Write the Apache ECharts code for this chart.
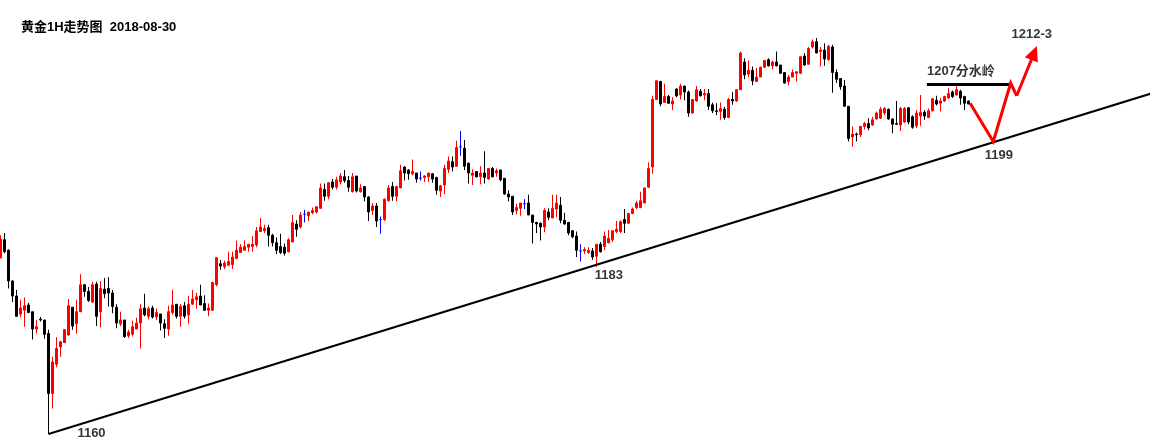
<!DOCTYPE html>
<html><head><meta charset="utf-8">
<script src="https://cdn.jsdelivr.net/npm/echarts@6/dist/echarts.min.js"></script>
<style>html,body{margin:0;padding:0;background:#fff}#c{width:1151px;height:442px}</style>
</head><body><div id="c"></div>
<script>
// Gold 1H candles: [open, close, low, high]
const candles = [
[1183.5,1186.0,1183.4,1186.5],[1185.9,1184.3,1184.1,1186.8],[1184.5,1180.4,1179.4,1184.6],[1180.4,1178.4,1177.6,1180.5],
[1178.4,1175.7,1175.6,1179.2],[1176.0,1176.8,1175.6,1177.9],[1176.5,1177.1,1174.3,1178.2],[1177.2,1176.2,1176.1,1177.5],
[1176.3,1174.0,1172.6,1176.3],[1174.0,1174.3,1173.4,1175.2],[1175.3,1175.2,1175.0,1175.6],[1175.2,1173.3,1172.7,1175.2],
[1173.4,1165.4,1163.2,1173.9],[1165.4,1169.6,1163.4,1170.3],[1169.3,1171.4,1168.9,1172.9],[1171.6,1172.3,1170.3,1172.4],
[1172.2,1173.9,1172.1,1174.0],[1173.2,1177.1,1173.1,1178.0],[1176.9,1174.4,1173.9,1176.9],[1174.7,1176.3,1173.4,1177.9],
[1176.3,1179.9,1176.3,1181.3],[1179.9,1179.0,1178.3,1180.0],[1179.0,1177.8,1177.6,1179.6],[1177.6,1179.9,1177.5,1180.3],
[1180.0,1175.7,1174.4,1180.3],[1176.3,1179.4,1174.2,1180.4],[1179.3,1178.7,1178.1,1180.8],[1179.4,1178.8,1177.0,1180.9],
[1178.8,1177.0,1176.1,1179.2],[1176.9,1174.8,1174.1,1177.3],[1174.7,1175.2,1174.4,1176.3],[1175.2,1173.0,1172.8,1175.2],
[1173.1,1173.6,1172.8,1173.9],[1173.3,1174.3,1173.0,1175.1],[1174.0,1174.8,1174.0,1175.5],[1174.8,1176.7,1171.4,1177.3],
[1176.8,1175.9,1175.7,1178.7],[1175.7,1176.7,1175.3,1177.0],[1176.8,1175.6,1175.4,1177.1],[1175.6,1176.2,1175.2,1176.7],
[1176.0,1174.8,1173.8,1176.0],[1174.7,1174.1,1172.8,1175.3],[1174.0,1176.3,1173.1,1177.1],[1176.2,1177.2,1175.9,1179.2],
[1177.3,1175.7,1175.4,1177.3],[1175.7,1177.0,1174.3,1177.3],[1177.1,1175.7,1175.4,1177.6],[1175.9,1177.3,1174.7,1178.4],
[1177.3,1178.0,1177.2,1179.2],[1177.9,1178.3,1176.7,1178.8],[1178.4,1177.2,1177.2,1179.9],[1177.4,1176.5,1176.4,1178.5],
[1176.5,1176.8,1175.7,1177.4],[1176.5,1180.2,1176.4,1180.3],[1179.9,1183.5,1179.7,1183.6],[1182.7,1182.4,1181.9,1183.2],
[1182.3,1182.8,1182.0,1183.1],[1182.5,1183.0,1182.4,1184.3],[1182.6,1183.6,1182.0,1184.3],[1183.4,1184.5,1183.3,1185.8],
[1184.2,1184.9,1184.2,1185.3],[1184.5,1185.0,1184.5,1185.8],[1184.9,1185.3,1184.3,1185.3],[1185.0,1185.3,1184.3,1186.4],
[1185.2,1187.1,1184.9,1187.6],[1187.0,1187.6,1187.0,1188.8],[1187.1,1187.4,1186.8,1187.9],[1187.5,1186.5,1185.0,1187.9],
[1186.5,1185.5,1185.0,1186.7],[1185.5,1184.5,1184.0,1186.2],[1185.0,1184.2,1184.0,1186.7],[1184.9,1184.1,1183.8,1185.4],
[1184.3,1185.9,1184.2,1186.1],[1185.6,1188.2,1185.6,1189.2],[1188.0,1187.3,1186.3,1188.5],[1187.6,1189.2,1187.4,1189.6],
[1189.3,1189.3,1188.2,1189.9],[1189.1,1189.6,1188.4,1189.6],[1189.5,1189.8,1189.3,1190.2],[1189.6,1190.3,1189.4,1190.4],
[1190.1,1192.8,1190.0,1193.4],[1192.6,1191.7,1191.1,1193.4],[1191.7,1193.5,1191.3,1193.6],[1193.6,1192.9,1192.6,1194.0],
[1192.9,1193.9,1192.6,1194.3],[1193.6,1194.4,1193.3,1194.8],[1194.3,1193.8,1193.5,1195.2],[1193.8,1192.9,1192.3,1194.4],
[1192.3,1194.3,1192.2,1194.8],[1194.4,1192.4,1192.2,1194.4],[1192.3,1192.8,1192.2,1193.3],[1193.0,1191.6,1191.0,1193.0],
[1191.6,1189.6,1188.4,1191.7],[1189.8,1190.4,1189.2,1190.8],[1190.4,1188.4,1187.6,1190.8],[1188.6,1188.6,1186.7,1189.0],
[1188.6,1191.3,1188.4,1191.4],[1191.1,1192.8,1191.0,1193.2],[1193.0,1191.7,1191.1,1193.6],[1191.7,1193.0,1191.0,1193.1],
[1192.8,1195.1,1192.8,1195.9],[1195.6,1194.8,1193.8,1195.7],[1195.2,1194.7,1193.9,1195.3],[1194.7,1195.0,1194.5,1196.6],
[1194.8,1194.0,1193.5,1194.8],[1194.1,1194.1,1193.8,1195.0],[1194.2,1194.4,1193.6,1194.5],[1194.3,1194.8,1193.6,1194.8],
[1194.7,1194.0,1193.5,1194.8],[1194.2,1192.5,1191.9,1194.3],[1192.4,1193.1,1191.6,1193.2],[1193.2,1195.4,1192.0,1195.9],
[1195.3,1196.4,1194.8,1197.0],[1196.3,1195.6,1195.0,1197.0],[1195.7,1198.2,1195.6,1199.1],[1198.3,1198.3,1197.1,1200.4],
[1198.1,1195.7,1195.2,1199.2],[1196.1,1194.8,1193.4,1196.2],[1194.5,1194.8,1193.2,1195.3],[1195.0,1194.3,1194.2,1195.0],
[1194.3,1194.8,1193.3,1195.7],[1194.8,1194.2,1193.4,1197.7],[1194.0,1195.4,1193.9,1195.4],[1195.4,1194.3,1194.2,1195.6],
[1194.8,1195.1,1194.3,1195.4],[1195.2,1193.9,1193.7,1195.2],[1194.1,1192.0,1191.9,1194.1],[1192.0,1191.6,1191.0,1192.5],
[1191.7,1189.6,1189.2,1191.7],[1189.8,1190.2,1189.3,1190.7],[1190.1,1190.8,1189.1,1190.8],[1190.7,1190.7,1190.0,1191.3],
[1190.8,1189.2,1189.2,1191.9],[1189.2,1188.2,1185.4,1189.2],[1188.2,1188.0,1186.8,1188.3],[1188.1,1187.6,1185.8,1188.2],
[1187.6,1189.8,1186.9,1190.1],[1189.6,1188.9,1188.5,1190.1],[1188.8,1190.1,1188.8,1191.9],[1190.0,1190.8,1188.9,1191.9],
[1190.5,1188.5,1188.1,1191.6],[1188.5,1188.0,1187.9,1189.5],[1188.2,1186.8,1186.5,1188.3],[1187.1,1186.3,1186.1,1187.2],
[1186.4,1184.5,1183.6,1187.0],[1184.4,1184.4,1183.0,1185.3],[1184.4,1184.6,1184.0,1184.9],[1184.2,1184.5,1184.0,1184.9],
[1184.4,1183.6,1183.2,1184.8],[1183.7,1185.3,1182.3,1185.3],[1185.3,1184.3,1184.2,1185.6],[1185.0,1186.4,1184.5,1187.0],
[1185.5,1186.1,1185.4,1187.2],[1185.9,1187.1,1185.6,1187.1],[1187.0,1187.3,1186.8,1188.4],[1187.0,1188.3,1186.8,1188.5],
[1188.6,1188.1,1186.8,1190.0],[1188.1,1189.4,1188.0,1189.5],[1189.4,1190.0,1189.3,1190.2],[1190.2,1190.8,1190.0,1191.1],
[1190.2,1191.1,1190.1,1192.3],[1190.8,1192.8,1190.8,1192.9],[1192.9,1195.4,1192.8,1196.2],[1195.6,1204.6,1194.7,1205.1],
[1204.6,1207.1,1204.6,1207.1],[1207.0,1204.0,1203.7,1207.1],[1204.2,1205.0,1204.2,1206.7],[1205.0,1204.1,1204.1,1205.2],
[1204.0,1204.4,1203.2,1204.9],[1206.0,1205.1,1204.9,1206.1],[1205.2,1206.4,1204.6,1206.7],[1206.4,1205.6,1204.5,1206.4],
[1205.6,1202.8,1202.3,1205.8],[1202.8,1204.6,1202.7,1204.6],[1204.4,1205.9,1204.3,1206.4],[1205.7,1205.1,1205.0,1206.0],
[1205.2,1205.4,1204.5,1206.0],[1205.4,1203.7,1203.2,1206.0],[1203.9,1203.1,1202.8,1204.2],[1203.1,1203.0,1202.5,1204.1],
[1203.0,1203.4,1201.9,1204.2],[1203.3,1202.2,1201.9,1203.6],[1202.2,1204.6,1202.1,1204.8],[1204.6,1204.4,1203.9,1205.6],
[1204.4,1205.9,1204.3,1206.0],[1205.9,1210.8,1205.9,1211.0],[1209.6,1207.9,1207.3,1210.1],[1208.0,1208.5,1207.6,1209.8],
[1208.5,1207.1,1206.5,1209.0],[1207.0,1207.6,1207.0,1208.8],[1207.6,1208.9,1207.6,1209.0],[1208.9,1209.8,1208.8,1209.9],
[1209.9,1209.1,1209.0,1210.1],[1209.1,1209.6,1208.6,1209.8],[1209.6,1209.1,1209.0,1211.0],[1209.2,1208.1,1208.0,1209.2],
[1208.2,1206.8,1206.7,1208.2],[1207.0,1207.6,1206.5,1207.9],[1207.6,1208.2,1207.6,1208.6],[1208.1,1208.3,1207.0,1208.4],
[1208.1,1210.3,1208.0,1210.4],[1210.4,1209.2,1209.1,1210.8],[1209.3,1211.4,1209.3,1211.6],[1211.6,1212.3,1211.4,1212.6],
[1212.3,1210.8,1210.8,1212.8],[1211.0,1211.2,1209.0,1211.6],[1211.2,1210.0,1209.1,1212.1],[1209.9,1211.7,1209.8,1211.9],
[1211.6,1208.2,1205.5,1211.9],[1208.2,1207.3,1206.8,1208.6],[1207.4,1206.3,1205.9,1207.4],[1206.4,1203.7,1203.7,1207.2],
[1203.7,1199.4,1199.0,1203.7],[1199.6,1200.0,1198.3,1201.0],[1200.0,1199.9,1199.0,1200.2],[1199.9,1201.0,1199.6,1201.1],
[1201.0,1201.4,1200.6,1201.6],[1201.4,1200.8,1200.5,1202.1],[1201.2,1201.9,1201.1,1202.3],[1202.0,1202.8,1201.9,1203.0],
[1202.1,1203.3,1202.0,1203.6],[1202.8,1203.4,1202.5,1203.6],[1203.3,1202.0,1201.9,1203.4],[1202.0,1201.3,1200.1,1202.1],
[1201.4,1201.3,1201.2,1204.4],[1201.2,1203.4,1200.4,1203.6],[1201.6,1203.4,1201.5,1203.6],[1203.5,1201.6,1201.3,1203.6],
[1202.3,1200.9,1200.7,1202.5],[1201.1,1202.8,1200.8,1203.2],[1202.4,1202.9,1201.1,1205.2],[1202.9,1202.4,1201.9,1203.2],
[1202.2,1203.1,1202.1,1203.4],[1203.1,1204.7,1203.0,1204.8],[1204.5,1204.0,1203.8,1205.1],[1204.1,1204.4,1203.0,1204.8],
[1204.4,1205.0,1204.3,1205.1],[1204.8,1205.4,1204.7,1206.1],[1205.6,1205.0,1204.8,1205.8],[1205.2,1205.9,1205.1,1206.4],
[1205.7,1204.8,1203.9,1205.9],[1205.0,1204.1,1203.2,1205.1],[1204.4,1204.0,1204.0,1204.5]
];
// hourly slots on the axis (data + room for the projection)
const slotCount = 288;
const categories = Array.from({length: slotCount}, (_, i) => 'H' + i);
const priceMin = 1158.93, priceMax = 1217.87;

// annotation lines, in [candle index, price]
const trendStub = [[12, 1163.2], [12, 1160.0]];
const trendLine = [[12, 1160.0], [287.7, 1205.4]];
const level1207 = [[231.6, 1206.6], [252.8, 1206.6]];
const projection = [[242.4, 1204.1], [248.2, 1199.0], [252.55, 1206.8], [254.05, 1205.1]];
const projectionArrow = [[254.05, 1205.1], [258.4, 1210.8]];
const notes = [
  {name: '1160', value: [22.75, 1160.1]},
  {name: '1183', value: [152.1, 1181.1]},
  {name: '1199', value: [249.6, 1197.1]},
  {name: '1207分水岭', value: [240.1, 1208.4]},
  {name: '1212-3', value: [257.8, 1213.3]}
];
const chartTitle = '黄金1H走势图  2018-08-30';

const FONT = "'Liberation Sans', 'Noto Sans CJK SC', sans-serif";
const chart = echarts.init(document.getElementById('c'), null, {renderer: 'canvas'});
chart.setOption({
  animation: false,
  backgroundColor: '#ffffff',
  title: {
    text: chartTitle, left: 16, top: 16,
    textStyle: {fontSize: 13, fontWeight: 'bold', color: '#000', fontFamily: FONT}
  },
  grid: {left: 0.5, right: 2.5, top: 0, bottom: 0, containLabel: false},
  xAxis: [
    {type: 'category', data: categories, show: false, boundaryGap: false},
    {type: 'value', min: 0, max: slotCount - 1, show: false}
  ],
  yAxis: {type: 'value', min: priceMin, max: priceMax, show: false},
  series: [
    {
      type: 'candlestick', xAxisIndex: 0, data: candles, barWidth: 3, clip: false,
      itemStyle: {
        color: '#ff0000', color0: '#000000',
        borderColor: '#ff0000', borderColor0: '#000000',
        borderColorDoji: '#0000ff', borderWidth: 1
      }
    },
    {
      type: 'line', xAxisIndex: 1, data: trendStub, symbol: 'none', clip: false,
      lineStyle: {color: '#000', width: 1}, silent: true
    },
    {
      type: 'line', xAxisIndex: 1, data: trendLine, symbol: 'none', clip: false,
      lineStyle: {color: '#000', width: 2}, silent: true
    },
    {
      type: 'line', xAxisIndex: 1, data: level1207, symbol: 'none',
      lineStyle: {color: '#000', width: 3}, silent: true
    },
    {
      type: 'line', xAxisIndex: 1, data: projection, symbol: 'none',
      lineStyle: {color: '#ff0000', width: 3, join: 'miter'}, silent: true,
      markLine: {
        silent: true, animation: false,
        symbol: ['none', 'triangle'], symbolSize: [14, 15],
        label: {show: false},
        lineStyle: {color: '#ff0000', width: 3, type: 'solid'},
        data: [[{coord: projectionArrow[0]}, {coord: projectionArrow[1]}]]
      }
    },
    {
      type: 'scatter', xAxisIndex: 1, data: notes, symbolSize: 1,
      itemStyle: {color: 'rgba(0,0,0,0)'}, silent: true, z: 10,
      label: {
        show: true, position: 'inside', formatter: '{b}',
        color: '#000', fontSize: 13, fontWeight: 'bold', fontFamily: FONT
      }
    }
  ]
});
</script>
</body></html>
